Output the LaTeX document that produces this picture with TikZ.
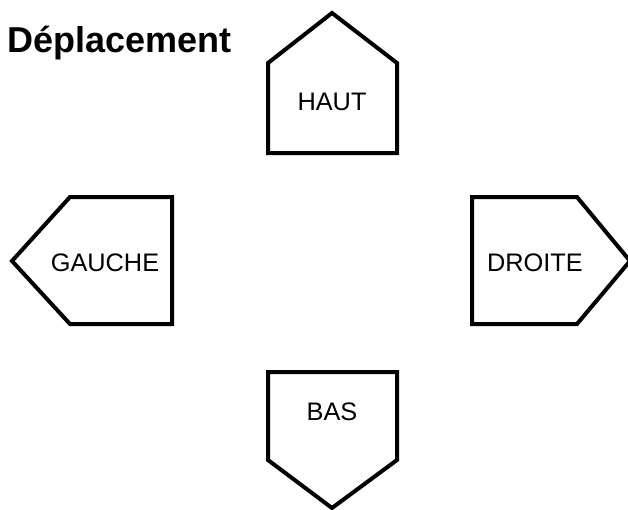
\documentclass[tikz,border=0pt]{standalone}
\usepackage{fontspec}
\setmainfont{Liberation Sans}

\tikzset{
  touche/.style={line width=3pt, line join=miter},
  etiquette/.style={font=\fontsize{19}{22}\selectfont},
  titre/.style={font=\fontsize{27}{31}\selectfont\bfseries, anchor=base west, inner sep=0pt}
}

\begin{document}
\begin{tikzpicture}[x=0.75pt,y=-0.75pt]
    \useasboundingbox (0,0) rectangle (628,510);
    %% Draw the title
    \node[titre] (T) at (7,53) {Déplacement};
    %% Draw the keys
    \draw[touche] (268,63) -- (332,13) -- (397,63) -- (397,153) -- (268,153) -- cycle;
    \draw[touche] (12,261) -- (70,197) -- (172,197) -- (172,324) -- (70,324) -- cycle;
    \draw[touche] (472,197) -- (577,197) -- (630,261) -- (577,324) -- (472,324) -- cycle;
    \draw[touche] (268,372) -- (397,372) -- (397,460) -- (332,508) -- (268,460) -- cycle;
    %% Draw the labels
    \node[etiquette] (H) at (332,102) {HAUT};
    \node[etiquette] (G) at (105,263) {GAUCHE};
    \node[etiquette] (D) at (535,263) {DROITE};
    \node[etiquette] (B) at (332,412) {BAS};
\end{tikzpicture}
\end{document}
